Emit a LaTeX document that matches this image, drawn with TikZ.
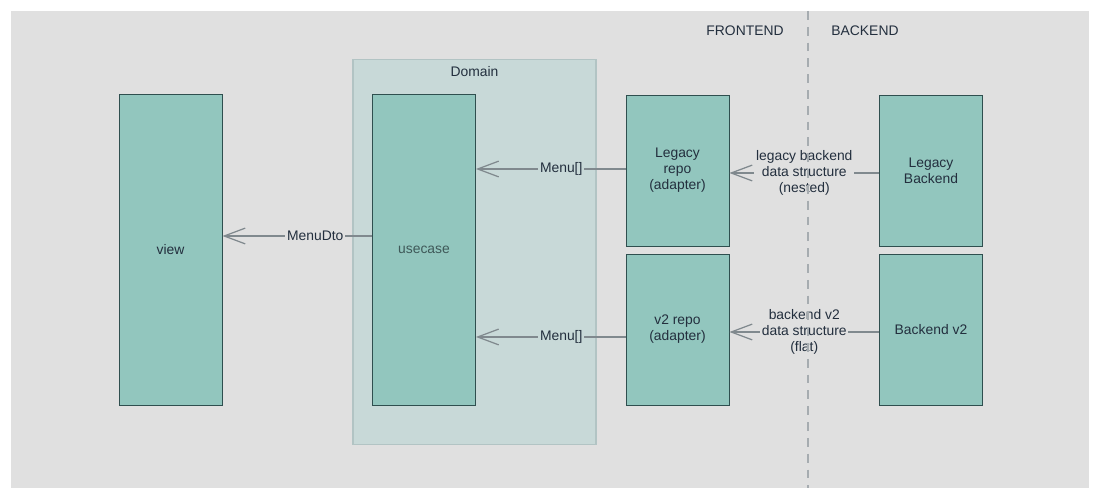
\documentclass[tikz,border=0pt]{standalone}
\usepackage{fontspec}
\setmainfont{Liberation Sans}
\usetikzlibrary{arrows.meta}
\definecolor{dgback}{RGB}{224,224,224}
\definecolor{dgteal}{RGB}{146,198,190}
\definecolor{dgedge}{RGB}{47,79,79}
\definecolor{dgdomain}{RGB}{200,217,216}
\definecolor{dgdomainedge}{RGB}{178,196,196}
\definecolor{dgtext}{RGB}{35,47,62}
\definecolor{dgline}{RGB}{128,137,142}
\newcommand{\dgfont}{\fontsize{7.9}{9.2}\selectfont}

\begin{document}
\begin{tikzpicture}[x=0.02cm, y=-0.02cm,
        block/.style={draw=dgedge, line width=0.5pt, fill=dgteal, minimum width=2.06cm, align=center, font=\dgfont, text=dgtext, inner sep=0pt},
        tall/.style={block, minimum height=6.22cm},
        half/.style={block, minimum height=3.02cm},
        flow/.style={-{Straight Barb[length=12pt, width=9pt]}, line width=0.7pt, draw=dgline},
        lbl/.style={font=\dgfont, text=dgtext, align=center, inner sep=1pt},
        head/.style={font=\dgfont, text=dgtext}
      ]
      \useasboundingbox (0,0) rectangle (1100,499);
      \fill[white] (0,0) rectangle (1100,499);
      \fill[dgback] (11,11) rectangle (1089,488);

      % domain container
      \node[draw=dgdomainedge, line width=0.6pt, fill=dgdomain, minimum width=4.86cm, minimum height=7.72cm, inner sep=0pt] (domain) at (474.5,252) {};
      \node[head] (domainlbl) at (474.5,72) {Domain};

      \node[tall] (view) at (170.5,249.5) {view};
      \node[tall, text=dgedge!80!gray] (usecase) at (424,249.5) {usecase};

      \node[half] (legacy) at (677.5,170.5) {Legacy\\repo\\(adapter)};
      \node[half] (v2repo) at (677.5,329.5) {v2 repo\\(adapter)};
      \node[half] (legacyback) at (931,170.5) {Legacy\\Backend};
      \node[half] (backv2) at (931,329.5) {Backend v2};

      \draw[flow] ([yshift=0.27cm]usecase.west) -- ([yshift=0.27cm]usecase.west -| view.east)
        node[lbl, fill=dgback, pos=0.38] {MenuDto};
      \draw[flow] ([yshift=0.03cm]legacy.west) -- ([yshift=0.03cm]legacy.west -| usecase.east)
        node[lbl, fill=dgdomain, pos=0.43] {Menu[]};
      \draw[flow] ([yshift=-0.15cm]v2repo.west) -- ([yshift=-0.15cm]v2repo.west -| usecase.east)
        node[lbl, fill=dgdomain, pos=0.43] {Menu[]};
      \draw[flow] ([yshift=-0.05cm]legacyback.west) -- ([yshift=-0.05cm]legacyback.west -| legacy.east)
        node[lbl, fill=dgback, pos=0.5] {legacy backend\\data structure\\(nested)};
      \draw[flow] ([yshift=-0.05cm]backv2.west) -- ([yshift=-0.05cm]backv2.west -| v2repo.east)
        node[lbl, fill=dgback, pos=0.5] {backend v2\\data structure\\(flat)};

      % frontend / backend split
      \coordinate (splittop) at (808,11);
      \coordinate (splitbot) at (808,488);
      \draw[dgline!70, line width=0.8pt, dash pattern=on 5pt off 4pt] (splittop) -- (splitbot);
      \node[head] (front) at (745,31) {FRONTEND};
      \node[head] (back) at (865,31) {BACKEND};
    \end{tikzpicture}
\end{document}
